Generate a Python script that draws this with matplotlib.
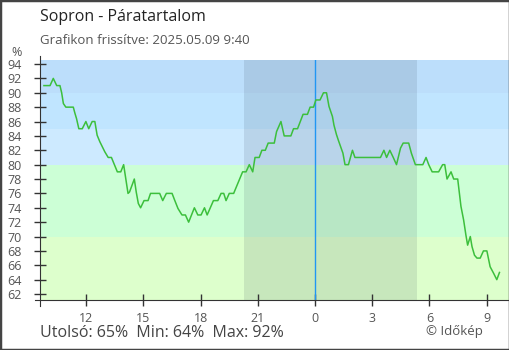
"""Sopron humidity chart (Időkép style) -- 24h trace with night shading."""

import matplotlib

matplotlib.use("Agg")
import matplotlib.pyplot as plt
from matplotlib.patches import Rectangle

plt.rcParams["font.family"] = ["Open Sans", "DejaVu Sans"]

# hours relative to midnight (negative = previous day), humidity in %
hours = [
    -14.22, -13.90, -13.73, -13.55, -13.38, -13.29, -13.20, -13.07, -12.68, -12.60,
    -12.51, -12.39, -12.21, -12.02, -11.87, -11.69, -11.55, -11.43, -11.29, -11.03,
    -10.85, -10.68, -10.37, -10.19, -10.04, -9.81, -9.73, -9.48, -9.38, -9.27,
    -9.15, -8.97, -8.76, -8.63, -8.15, -7.99, -7.80, -7.50, -7.37, -7.19,
    -6.98, -6.80, -6.63, -6.33, -6.15, -5.98, -5.80, -5.66, -5.33, -5.10,
    -4.93, -4.79, -4.67, -4.50, -4.27, -3.80, -3.62, -3.45, -3.27, -3.15,
    -2.93, -2.79, -2.61, -2.46, -2.14, -2.02, -1.79, -1.62, -1.27, -1.13,
    -0.92, -0.63, -0.40, -0.26, -0.08, 0.04, 0.26, 0.44, 0.60, 0.73,
    0.91, 0.99, 1.12, 1.22, 1.34, 1.46, 1.57, 1.75, 1.96, 2.09,
    3.43, 3.61, 3.75, 3.92, 4.10, 4.27, 4.39, 4.48, 4.62, 4.91,
    5.05, 5.18, 5.26, 5.65, 5.82, 5.96, 6.14, 6.48, 6.69, 6.80,
    6.92, 7.13, 7.27, 7.48, 7.56, 7.65, 7.79, 7.91, 8.00, 8.14,
    8.23, 8.36, 8.49, 8.66, 8.83, 9.01, 9.18, 9.36, 9.53, 9.67,
]
humidity = [
    91, 91, 92, 91, 91, 90, 88.5, 88, 88, 87.2,
    86.4, 85, 85, 86, 85, 86, 86, 84.1, 83.2, 81.8,
    81, 81, 79, 79, 80, 76, 76.2, 78, 76.2, 74.6,
    74, 75, 75, 76, 76, 75, 76, 76, 75.1, 73.9,
    73, 73, 72, 74, 73, 73, 74, 73, 75, 75,
    76, 76, 75, 76, 76, 79, 79, 80, 79, 81,
    81, 82, 82, 83, 83, 84.6, 86, 84, 84, 85,
    85, 87, 87, 88, 88, 89, 89, 90, 90, 88.1,
    86.7, 85.5, 84.2, 83.4, 82.5, 81.6, 80, 80, 82, 81,
    81, 82, 81, 82, 81, 80, 81.3, 82.3, 83, 83,
    81.6, 80.6, 80, 80, 81, 80, 79, 79, 80, 80,
    78, 79, 78, 78, 76.2, 74.2, 72.3, 70.2, 68.8, 70,
    68.6, 67.4, 67, 67, 68, 68, 65.8, 64.9, 64, 65,
]

tick_hours = [-12, -9, -6, -3, 0, 3, 6, 9]
tick_labels = ["12", "15", "18", "21", "0", "3", "6", "9"]
y_ticks = list(range(62, 95, 2))

# background bands: (low, high, colour)
bands = [
    (0, 70, "#ddffcc"),
    (70, 80, "#ccffd6"),
    (80, 85, "#cdeaff"),
    (85, 90, "#c0e5ff"),
    (90, 100, "#bcdefb"),
]
night = (-3.73, 5.37)

X0, X1 = -14.4, 10.17
Y0, Y1 = 61.17, 94.56

fig = plt.figure(figsize=(5.1, 3.5), dpi=100)
ax = fig.add_axes([40.5 / 510, 50 / 350, 468.5 / 510, 240 / 350])

for lo, hi, c in bands:
    ax.axhspan(lo, hi, color=c, lw=0, zorder=0)
ax.axvspan(*night, color="#1a2a40", alpha=0.11, lw=0, zorder=1)
ax.axvline(0, color="#2196f3", lw=1.0, zorder=2)
ax.plot(hours, humidity, color="#3cbf3c", lw=1.1, zorder=3)

ax.set_xlim(X0, X1)
ax.set_ylim(Y0, Y1)
ax.set_xticks(tick_hours, tick_labels)
ax.set_yticks(y_ticks)
ax.tick_params(direction="inout", length=8.6, width=1, color="#333333",
               labelcolor="#555555", labelsize=9)
ax.tick_params(axis="x", pad=4)
ax.tick_params(axis="y", pad=9.5)
for s in ("top", "right"):
    ax.spines[s].set_visible(False)
for s in ("left", "bottom"):
    ax.spines[s].set_color("#333333")
ax.spines["left"].set_bounds(Y0 - 0.83, Y1 + 0.55)
ax.spines["bottom"].set_bounds(X0 - 0.31, X1)

fig.text(40 / 510, 1 - 17 / 350, "Sopron - Páratartalom", fontsize=11.5,
         color="#222222", va="center")
fig.text(40 / 510, 1 - 40 / 350, "Grafikon frissítve: 2025.05.09 9:40",
         fontsize=9.5, color="#555555", va="center")
fig.text(16.5 / 510, 1 - 52 / 350, "%", fontsize=9, color="#555555",
         ha="center", va="center")
fig.text(40 / 510, 1 - 333 / 350, "Utolsó: 65%  Min: 64%  Max: 92%",
         fontsize=11.5, color="#444444", va="center")
fig.text(454 / 510, 1 - 332 / 350, "© Időkép", fontsize=9.5,
         color="#555555", ha="center", va="center")

fig.patches.append(Rectangle((0, 0), 1, 1, transform=fig.transFigure,
                             fill=False, ec="#444444", lw=2.5))

fig.savefig("out.png", dpi=100)
